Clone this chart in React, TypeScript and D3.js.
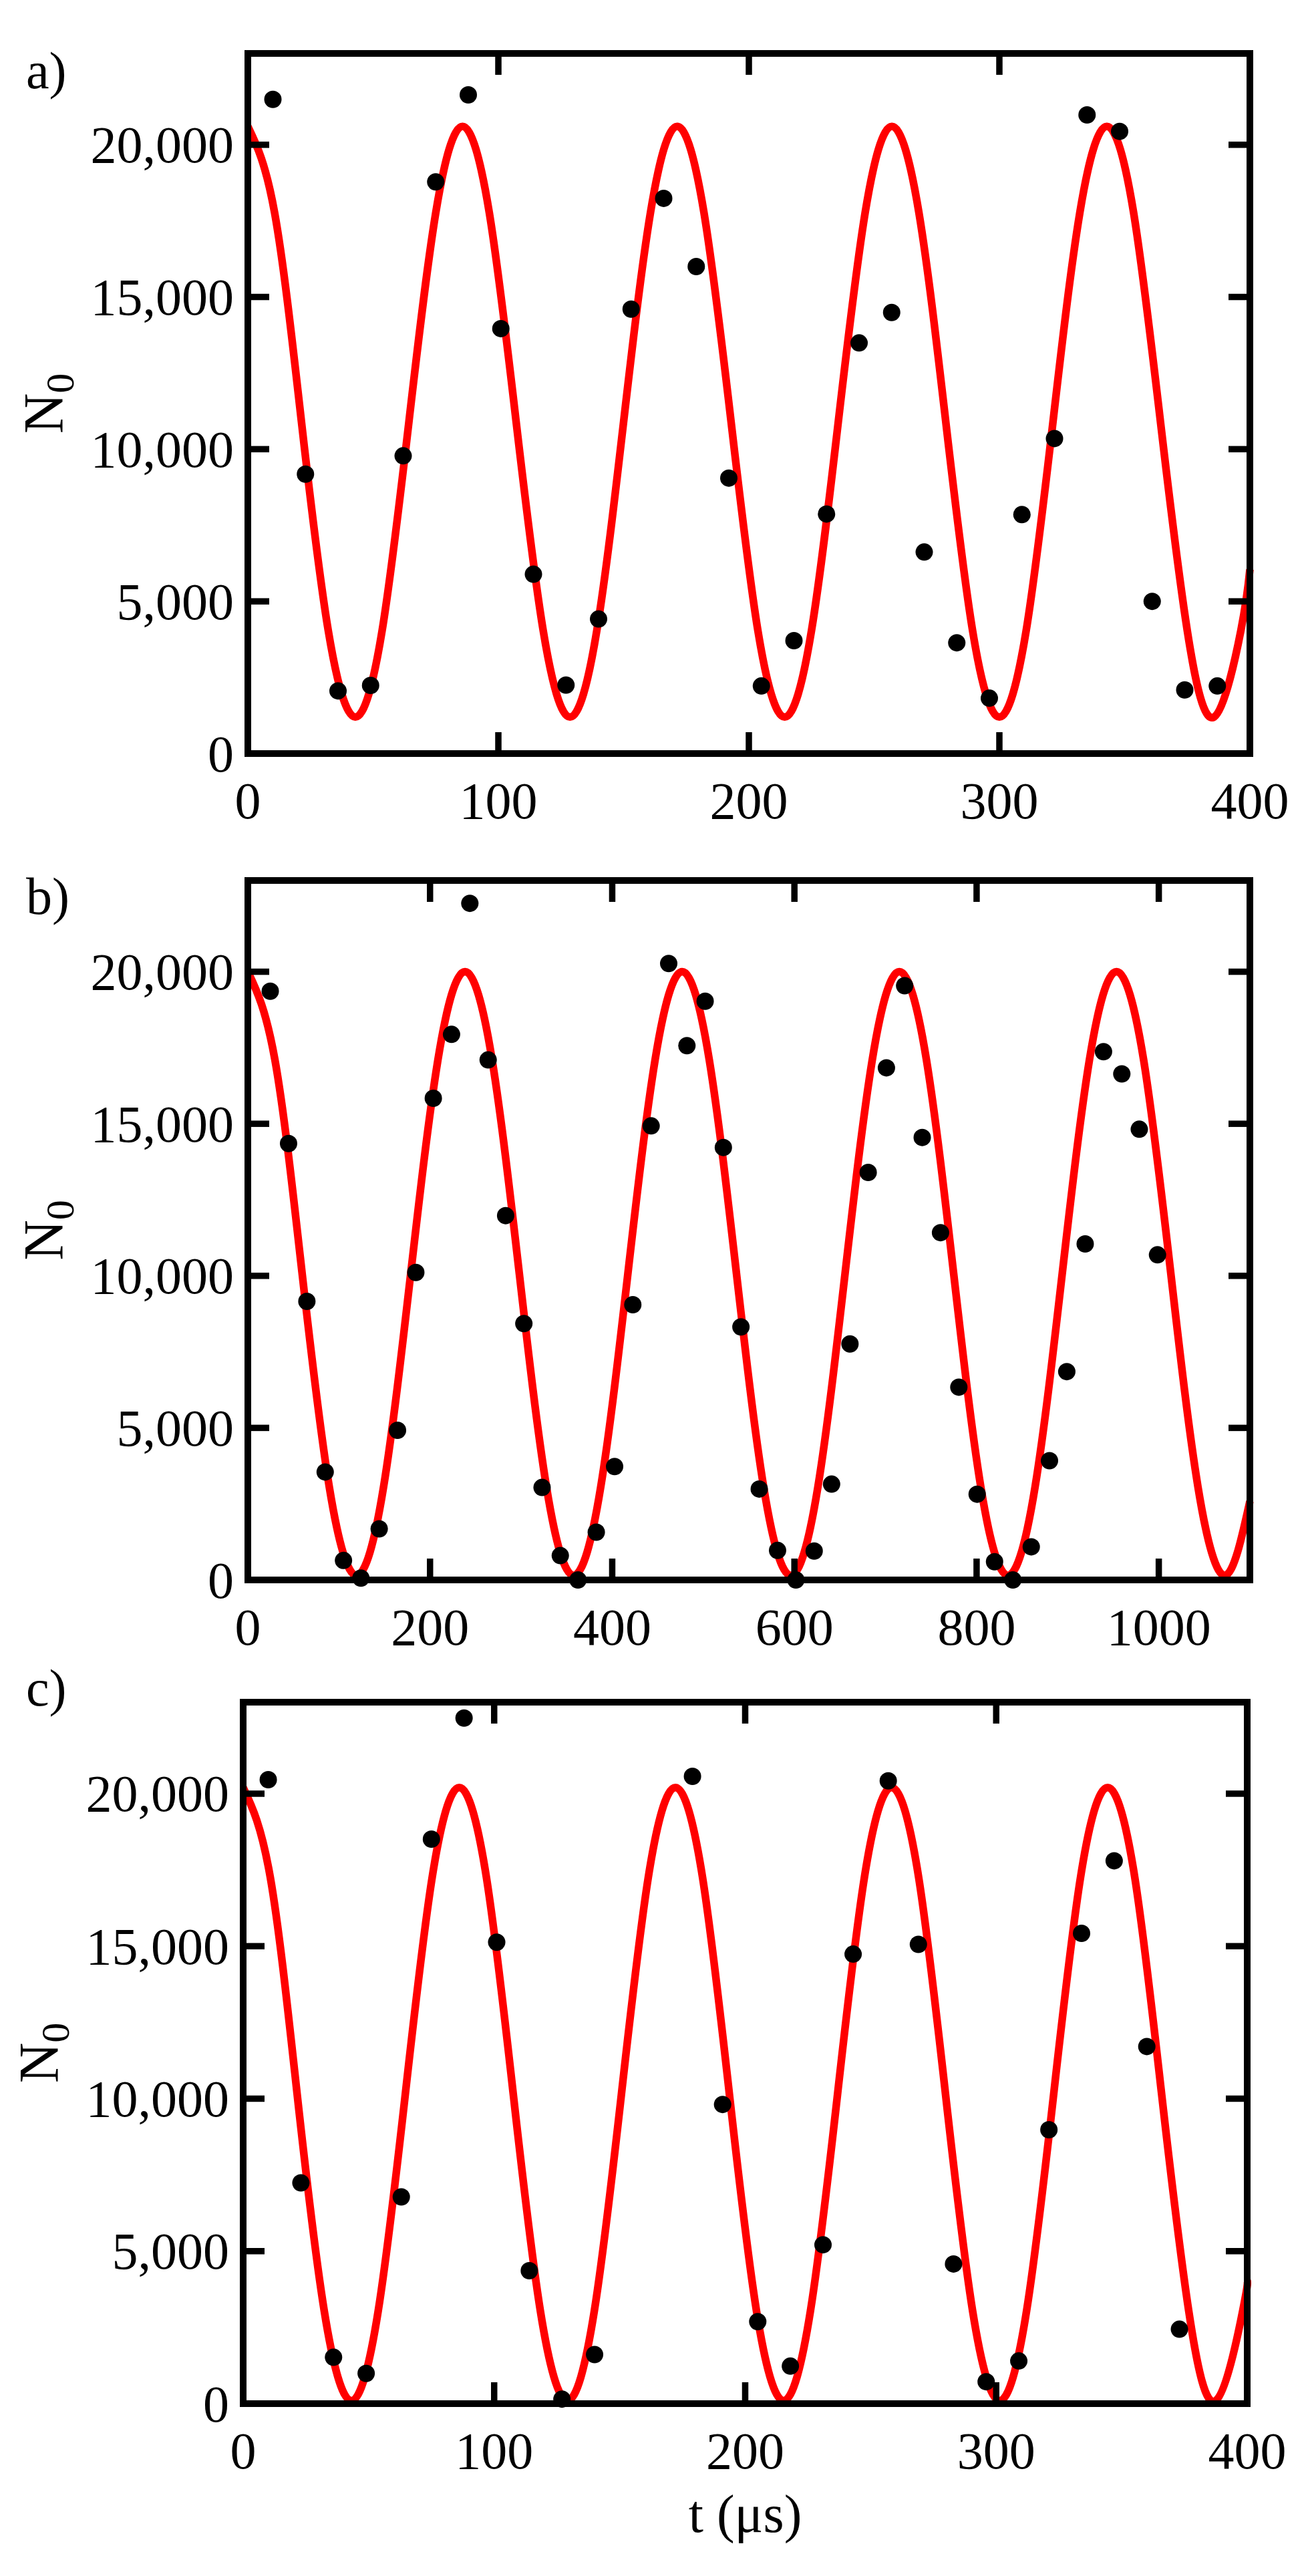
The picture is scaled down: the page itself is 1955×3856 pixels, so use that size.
import React, { useEffect } from "react";
import * as d3 from "d3";

const W = 1955;
const H = 3856;
const FONT = "'Liberation Serif', 'Times New Roman', serif";

// ---- panel a) measured points
const tA = [10, 23, 36, 49, 62, 75, 88, 101, 114, 127, 140, 153, 166, 179, 192, 205, 218, 231, 244, 257, 270, 283, 296, 309, 322, 335, 348, 361, 374, 387];
const nA = [21490, 9180, 2060, 2240, 9780, 18780, 21640, 13960, 5890, 2250, 4420, 14600, 18240, 16000, 9050, 2220, 3710, 7870, 13490, 14490, 6620, 3640, 1820, 7850, 10350, 20980, 20440, 5000, 2090, 2220];

// fit curve a) read every 1/8 period
const fitTA = [0, 10.7, 21.4, 32.1, 42.9, 53.6, 64.3, 75.0, 85.7, 96.4, 107.1, 117.9, 128.6, 139.3, 150.0, 160.7, 171.4, 182.1, 192.9, 203.6, 214.3, 225.0, 235.7, 246.4, 257.1, 267.9, 278.6, 289.3, 300.0, 310.7, 321.4, 332.1, 342.9, 353.6, 364.3, 375.0, 385.7, 396.4, 400];
const fitNA = [20600, 17760, 10900, 4040, 1200, 4040, 10900, 17760, 20600, 17760, 10900, 4040, 1200, 4040, 10900, 17760, 20600, 17760, 10900, 4040, 1200, 4040, 10900, 17760, 20600, 17760, 10900, 4040, 1200, 4040, 10900, 17760, 20600, 17760, 10900, 4040, 1200, 4040, 6050];

// ---- panel b) measured points
const tB = [24.6, 44.7, 64.8, 84.9, 105, 124.1, 144.2, 164.3, 184.4, 203.6, 223.6, 243.7, 263.8, 283, 303, 323, 343, 362.4, 382.5, 402.6, 422.6, 442.7, 462, 482, 502, 522, 541.3, 561.4, 581.5, 601.6, 621.7, 640.8, 661, 681, 701, 721, 740.3, 760.4, 780.5, 800.6, 819.7, 839.8, 860, 880, 899, 919.2, 939.3, 959.4, 978.6, 998.6];
const nB = [19360, 14350, 9160, 3550, 640, 60, 1680, 4920, 10110, 15840, 17940, 22250, 17100, 11980, 8430, 3040, 800, 0, 1570, 3730, 9050, 14930, 20270, 17570, 19030, 14220, 8320, 2990, 970, 0, 950, 3150, 7760, 13400, 16840, 19540, 14550, 11420, 6340, 2820, 600, 0, 1090, 3920, 6850, 11050, 17370, 16640, 14820, 10690];

const fitTB = [0, 29.8, 59.6, 89.4, 119.2, 149, 178.8, 208.6, 238.4, 268.2, 298, 327.8, 357.6, 387.4, 417.2, 447, 476.8, 506.6, 536.4, 566.2, 596, 625.8, 655.6, 685.4, 715.2, 745, 774.8, 804.6, 834.4, 864.2, 894, 923.8, 953.6, 983.4, 1013.2, 1043, 1072.8, 1100];
const fitNB = [20000, 17090, 10075, 3060, 150, 3060, 10075, 17090, 20000, 17090, 10075, 3060, 150, 3060, 10075, 17090, 20000, 17090, 10075, 3060, 150, 3060, 10075, 17090, 20000, 17090, 10075, 3060, 150, 3060, 10075, 17090, 20000, 17090, 10075, 3060, 150, 2585];

// ---- panel c) measured points
const tC = [10, 23, 36, 49, 63, 75, 88, 101, 114, 127, 140, 179, 191, 205, 218, 231, 243, 257, 269, 283, 296, 309, 321, 334, 347, 360, 373];
const nC = [20460, 7240, 1520, 990, 6780, 18510, 22480, 15130, 4360, 150, 1610, 20570, 9810, 2690, 1230, 5210, 14740, 20420, 15060, 4580, 720, 1400, 8980, 15420, 17800, 11710, 2440];

const fitTC = [0, 10.8, 21.5, 32.3, 43.1, 53.8, 64.6, 75.3, 86.1, 96.9, 107.6, 118.4, 129.2, 139.9, 150.7, 161.4, 172.2, 183.0, 193.7, 204.5, 215.3, 226.0, 236.8, 247.5, 258.3, 269.1, 279.8, 290.6, 301.4, 312.1, 322.9, 333.6, 344.4, 355.2, 365.9, 376.7, 387.5, 398.2, 400];
const fitNC = [20200, 17260, 10150, 3040, 100, 3040, 10150, 17260, 20200, 17260, 10150, 3040, 100, 3040, 10150, 17260, 20200, 17260, 10150, 3040, 100, 3040, 10150, 17260, 20200, 17260, 10150, 3040, 100, 3040, 10150, 17260, 20200, 17260, 10150, 3040, 100, 3040, 4030];

// axes
const yTicks = [0, 5000, 10000, 15000, 20000];
const xTicksShort = [0, 100, 200, 300, 400];
const xTicksLong = [0, 200, 400, 600, 800, 1000];

const fmt = d3.format(",");

interface PanelProps {
  left: number;
  right: number;
  top: number;
  bottom: number;
  xMax: number;
  xTicks: number[];
  label: string;
  labelY: number;
  t: number[];
  n: number[];
  fitT: number[];
  fitN: number[];
  title?: string;
}

const Panel = ({ left, right, top, bottom, xMax, xTicks, label, labelY, t, n, fitT, fitN, title }: PanelProps) => {
  const x = d3.scaleLinear().domain([0, xMax]).range([left, right]);
  const y = d3.scaleLinear().domain([0, 23000]).range([bottom, top]);

  const line = d3
    .line<number>()
    .x((d, i) => x(fitT[i]))
    .y((d) => y(d))
    .curve(d3.curveNatural);

  const tickLen = 32;
  const axisW = 9.5;
  const innerX = xTicks.filter((v) => v > 0 && v < xMax);
  const innerY = yTicks.filter((v) => v > 0);

  return (
    <g>
      <text x={39} y={labelY} fontSize={78} fontFamily={FONT}>
        {label}
      </text>

      <path d={line(fitN) ?? ""} fill="none" stroke="#ff0000" strokeWidth={11.5} strokeLinejoin="round" />

      {t.map((tv, i) => (
        <circle key={i} cx={x(tv)} cy={y(n[i])} r={13} fill="#000" />
      ))}

      {/* ticks */}
      {innerX.map((v) => (
        <g key={"x" + v}>
          <line x1={x(v)} x2={x(v)} y1={bottom} y2={bottom - tickLen} stroke="#000" strokeWidth={axisW} />
          <line x1={x(v)} x2={x(v)} y1={top} y2={top + tickLen} stroke="#000" strokeWidth={axisW} />
        </g>
      ))}
      {innerY.map((v) => (
        <g key={"y" + v}>
          <line x1={left} x2={left + tickLen} y1={y(v)} y2={y(v)} stroke="#000" strokeWidth={axisW} />
          <line x1={right} x2={right - tickLen} y1={y(v)} y2={y(v)} stroke="#000" strokeWidth={axisW} />
        </g>
      ))}

      <rect x={left} y={top} width={right - left} height={bottom - top} fill="none" stroke="#000" strokeWidth={axisW + 0.5} />

      {/* tick labels */}
      {xTicks.map((v) => (
        <text key={"xl" + v} x={x(v)} y={bottom + 97} textAnchor="middle" fontSize={78} fontFamily={FONT}>
          {v}
        </text>
      ))}
      {yTicks.map((v) => (
        <text key={"yl" + v} x={left - 21} y={y(v)} dy="0.34em" textAnchor="end" fontSize={78} fontFamily={FONT}>
          {fmt(v)}
        </text>
      ))}

      <text
        transform={`translate(${left - 277},${(top + bottom) / 2}) rotate(-90)`}
        textAnchor="middle"
        fontSize={84}
        fontFamily={FONT}
      >
        N
        <tspan fontSize={60} dy={16}>
          0
        </tspan>
      </text>

      {title && (
        <text x={(left + right) / 2} y={bottom + 192} textAnchor="middle" fontSize={80} fontFamily={FONT}>
          {title}
        </text>
      )}
    </g>
  );
};

export default function App() {
  useEffect(() => {
    document.body.style.margin = "0";
  }, []);

  return (
    <svg width={W} height={H} viewBox={`0 0 ${W} ${H}`} style={{ display: "block", background: "#fff" }}>
      <rect width={W} height={H} fill="#fff" />
      <Panel left={371} right={1871} top={80} bottom={1128} xMax={400} xTicks={xTicksShort} label="a)" labelY={132}
        t={tA} n={nA} fitT={fitTA} fitN={fitNA} />
      <Panel left={371} right={1871} top={1318} bottom={2365} xMax={1100} xTicks={xTicksLong} label="b)" labelY={1368}
        t={tB} n={nB} fitT={fitTB} fitN={fitNB} />
      <Panel left={364} right={1867} top={2548} bottom={3598} xMax={400} xTicks={xTicksShort} label="c)" labelY={2553}
        t={tC} n={nC} fitT={fitTC} fitN={fitNC} title="t (μs)" />
    </svg>
  );
}
